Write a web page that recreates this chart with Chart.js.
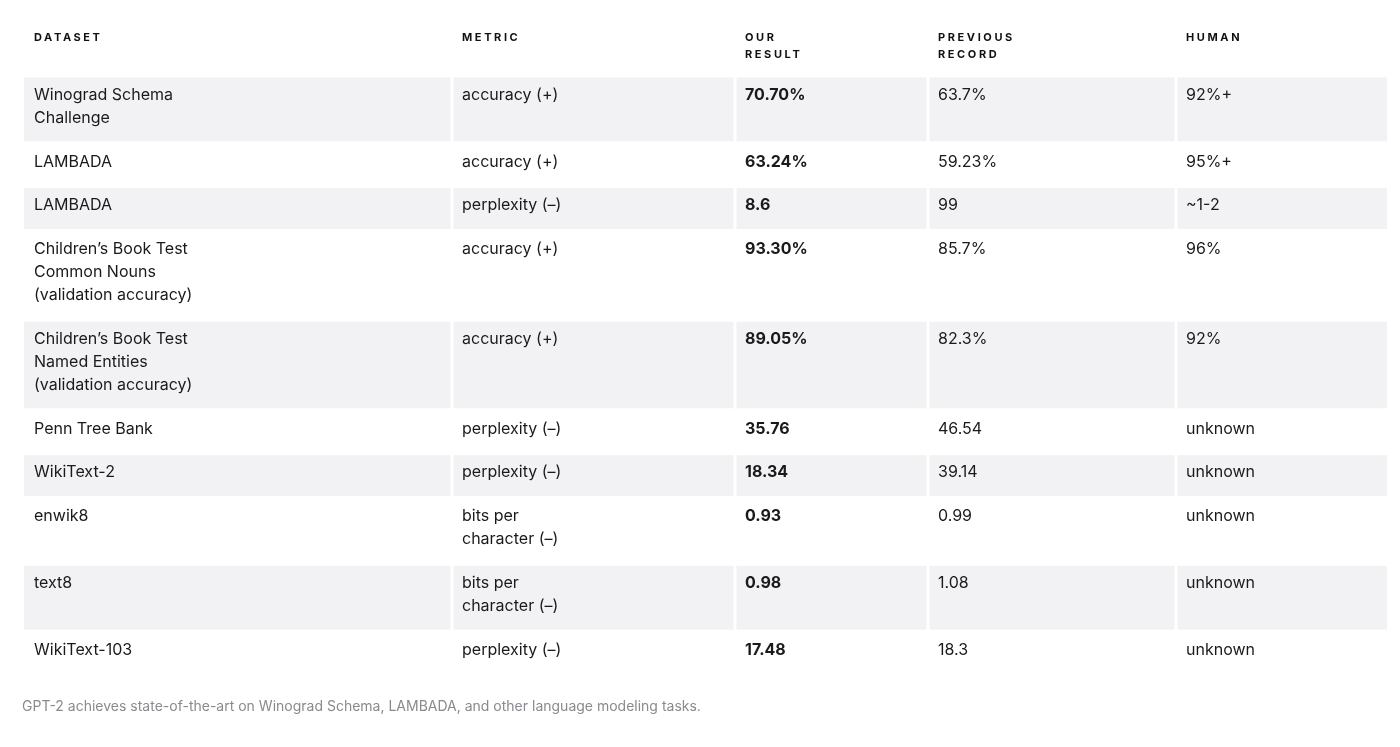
<!DOCTYPE html>
<html>
<head>
<meta charset="utf-8">
<script src="https://cdn.jsdelivr.net/npm/chart.js@4"></script>
<style>
  body { margin: 0; background: #fff; }
  #wrap { width: 1400px; height: 747px; }
</style>
</head>
<body>
<div id="wrap"><canvas id="table-chart"></canvas></div>
<script>
// table data
const headers = [["DATASET"], ["METRIC"], ["OUR", "RESULT"], ["PREVIOUS", "RECORD"], ["HUMAN"]];
const datasets = [["Winograd Schema", "Challenge"], ["LAMBADA"], ["LAMBADA"],
    ["Children\u2019s Book Test", "Common Nouns", "(validation accuracy)"],
    ["Children\u2019s Book Test", "Named Entities", "(validation accuracy)"],
    ["Penn Tree Bank"], ["WikiText-2"], ["enwik8"], ["text8"], ["WikiText-103"]];
const metrics = [["accuracy (+)"], ["accuracy (+)"], ["perplexity (\u2013)"], ["accuracy (+)"],
    ["accuracy (+)"], ["perplexity (\u2013)"], ["perplexity (\u2013)"],
    ["bits per", "character (\u2013)"], ["bits per", "character (\u2013)"], ["perplexity (\u2013)"]];
const ourResult = ["70.70%", "63.24%", "8.6", "93.30%", "89.05%", "35.76", "18.34", "0.93", "0.98", "17.48"];
const previousRecord = ["63.7%", "59.23%", "99", "85.7%", "82.3%", "46.54", "39.14", "0.99", "1.08", "18.3"];
const human = ["92%+", "95%+", "~1-2", "96%", "92%", "unknown", "unknown", "unknown", "unknown", "unknown"];
const caption = "GPT-2 achieves state-of-the-art on Winograd Schema, LAMBADA, and other language modeling tasks.";

// column edges in px units of the x scale
const colEdges = [0, 428, 711, 904, 1152, 1363];

// row heights from line counts
const rowLines = datasets.map((d, i) => Math.max(d.length, metrics[i].length));
const rowEdges = [0];
rowLines.forEach(n => rowEdges.push(rowEdges[rowEdges.length - 1] + 21 + 22.8 * n));
const totalH = rowEdges[rowEdges.length - 1];

const tablePlugin = {
    id: 'tablePlugin',
    afterDraw(chart) {
        const ctx = chart.ctx;
        const xs = chart.scales.x, ys = chart.scales.y;
        const X = v => xs.getPixelForValue(v);
        const Y = v => ys.getPixelForValue(v);
        ctx.save();
        ctx.textBaseline = 'top';
        // header
        ctx.font = 'bold 11px Inter';
        ctx.letterSpacing = '2.6px';
        ctx.fillStyle = '#111';
        headers.forEach((h, c) => {
            h.forEach((t, k) => ctx.fillText(t, X(colEdges[c]) + 10, 32 + k * 17));
        });
        ctx.letterSpacing = '0px';
        const cols = [datasets, metrics, ourResult.map(v => [v]), previousRecord.map(v => [v]), human.map(v => [v])];
        for (let r = 0; r < rowLines.length; r++) {
            const top = Y(rowEdges[r]), bot = Y(rowEdges[r + 1]);
            if (r % 2 === 0) {
                ctx.fillStyle = '#f2f2f4';
                for (let c = 0; c < 5; c++) {
                    const l = X(colEdges[c]) + (c ? 1.5 : 0);
                    const rr = X(colEdges[c + 1]) - (c < 4 ? 1.5 : 0);
                    ctx.fillRect(l, top + 1.5, rr - l, bot - top - 3);
                }
            }
            for (let c = 0; c < 5; c++) {
                ctx.font = (c === 2 ? 'bold ' : '') + '16px Inter';
                ctx.fillStyle = '#1a1a1a';
                cols[c][r].forEach((t, k) => ctx.fillText(t, X(colEdges[c]) + 10, top + 11 + k * 23));
            }
        }
        ctx.font = '14px Inter';
        ctx.fillStyle = '#8a8a8f';
        ctx.fillText(caption, 22, 700);
        ctx.restore();
    }
};

new Chart(document.getElementById('table-chart'), {
    type: 'scatter',
    data: { datasets: [{ data: [] }] },
    options: {
        responsive: true,
        maintainAspectRatio: false,
        animation: { duration: 0 },
        layout: { padding: { left: 24, right: 13, top: 76, bottom: 72 } },
        scales: {
            x: { type: 'linear', min: 0, max: colEdges[colEdges.length - 1], display: false },
            y: { type: 'linear', min: 0, max: totalH, reverse: true, display: false }
        },
        plugins: { legend: { display: false }, tooltip: { enabled: false } }
    },
    plugins: [tablePlugin]
});
</script>
</body>
</html>
